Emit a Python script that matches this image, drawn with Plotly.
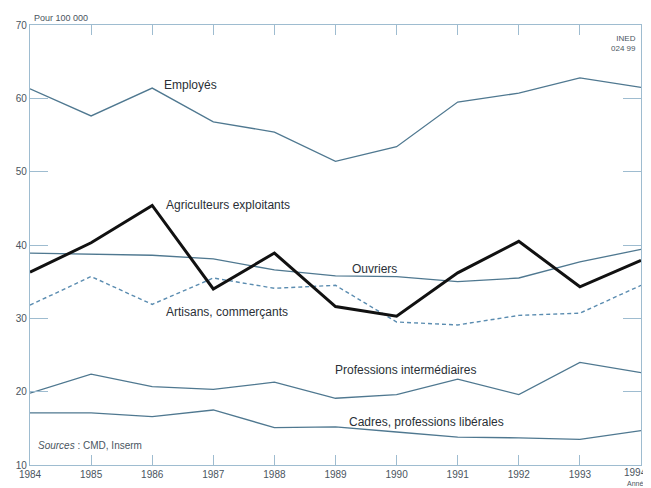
import plotly.graph_objects as go

years = [1984, 1985, 1986, 1987, 1988, 1989, 1990, 1991, 1992, 1993, 1994]
employes = [61.3, 57.6, 61.4, 56.8, 55.4, 51.4, 53.4, 59.5, 60.7, 62.8, 61.5]
agriculteurs = [36.3, 40.3, 45.4, 34.0, 38.9, 31.6, 30.3, 36.2, 40.5, 34.3, 37.9]
ouvriers = [38.9, 38.7, 38.6, 38.1, 36.6, 35.8, 35.7, 35.0, 35.5, 37.7, 39.4]
artisans = [31.8, 35.7, 31.9, 35.5, 34.1, 34.5, 29.5, 29.1, 30.4, 30.7, 34.5]
prof_inter = [19.8, 22.4, 20.7, 20.3, 21.3, 19.1, 19.6, 21.7, 19.6, 24.0, 22.6]
cadres = [17.1, 17.1, 16.6, 17.5, 15.1, 15.2, 14.5, 13.8, 13.7, 13.5, 14.7]

x_ticks = [1984, 1985, 1986, 1987, 1988, 1989, 1990, 1991, 1992, 1993, 1994]
x_ticktext = ["1984", "1985", "1986", "1987", "1988", "1989", "1990", "1991",
              "1992", "1993", ""]
last_year_label = "1994"
y_ticks = [10, 20, 30, 40, 50, 60, 70]

line_col = "#4f7890"
frame_col = "#9ebcd0"
text_col = "#2a2f36"
small_col = "#4a5560"
fam = "Liberation Sans, Arial"

fig = go.Figure()
for vals in [employes, ouvriers, prof_inter, cadres]:
    fig.add_trace(go.Scatter(x=years, y=vals, mode="lines",
                             line=dict(color=line_col, width=1.3)))
fig.add_trace(go.Scatter(x=years, y=artisans, mode="lines",
                         line=dict(color="#5a8cb0", width=1.4, dash="4px,3px")))
fig.add_trace(go.Scatter(x=years, y=agriculteurs, mode="lines",
                         line=dict(color="#111111", width=3)))

labels = [
    ("Employés", 1986.16, 61.8),
    ("Agriculteurs exploitants", 1986.2, 45.4),
    ("Ouvriers", 1989.24, 36.7),
    ("Artisans, commerçants", 1986.2, 30.85),
    ("Professions intermédiaires", 1988.96, 22.9),
    ("Cadres, professions libérales", 1989.19, 15.8),
]
annotations = []
for txt, xx, yy in labels:
    annotations.append(dict(x=xx, y=yy, xref="x", yref="y", text=txt,
                            showarrow=False, xanchor="left", yanchor="middle",
                            font=dict(size=12, color=text_col, family=fam)))
annotations.append(dict(x=1984.1, y=12.7, xref="x", yref="y",
                        text="<i>Sources</i> : CMD, Inserm", showarrow=False,
                        xanchor="left", yanchor="middle",
                        font=dict(size=10, color=small_col, family=fam)))
annotations.append(dict(x=0.003, y=1.0, xref="paper", yref="paper",
                        text="Pour 100 000", showarrow=False,
                        xanchor="left", yanchor="bottom",
                        font=dict(size=9, color=small_col, family=fam)))
annotations.append(dict(x=0.995, y=0.985, xref="paper", yref="paper",
                        text="INED<br>024 99", showarrow=False, align="right",
                        xanchor="right", yanchor="top",
                        font=dict(size=8, color=small_col, family=fam)))
annotations.append(dict(x=years[-1], y=0, xref="x", yref="paper",
                        text=last_year_label, showarrow=False, borderpad=0,
                        xanchor="right", yanchor="top", xshift=7, yshift=-1,
                        font=dict(size=10, color=small_col, family=fam)))
annotations.append(dict(x=years[-1], y=0, xref="x", yref="paper",
                        text="Année", showarrow=False, borderpad=0,
                        xanchor="right", yanchor="bottom", xshift=7, yshift=-23,
                        font=dict(size=7, color=small_col, family=fam)))

fig.update_layout(
    width=643, height=480,
    margin=dict(l=22, r=10, t=17, b=23, autoexpand=False),
    paper_bgcolor="white", plot_bgcolor="white",
    showlegend=False,
    annotations=annotations,
    font=dict(family=fam, color=small_col),
)
fig.update_xaxes(range=[1984, 1994], tickvals=x_ticks,
                 ticktext=x_ticktext, automargin=False,
                 showgrid=False, zeroline=False, showline=True,
                 linecolor=frame_col, linewidth=1.3, mirror="ticks",
                 ticks="inside", ticklen=10, tickcolor=frame_col,
                 tickfont=dict(size=10, color=small_col))
fig.update_yaxes(range=[10, 70], tickvals=y_ticks, automargin=False,
                 showgrid=False, zeroline=False, showline=True,
                 linecolor=frame_col, linewidth=1.3, mirror="ticks",
                 ticks="inside", ticklen=18, tickcolor=frame_col,
                 tickfont=dict(size=10, color=small_col))

fig.write_html("out.html")
